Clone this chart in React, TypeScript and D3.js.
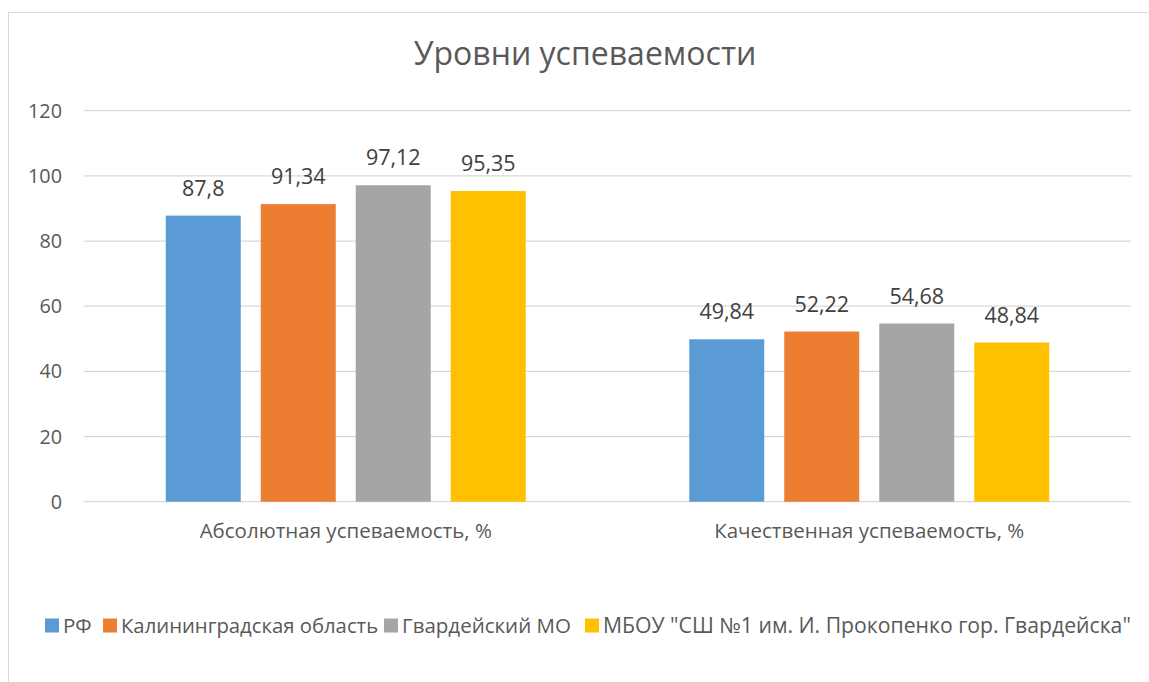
import React from "react";
import * as d3 from "d3";

const title = "Уровни успеваемости";
const categories = ["Абсолютная успеваемость, %", "Качественная успеваемость, %"];
const seriesNames = ["РФ", "Калининградская область", "Гвардейский МО", "МБОУ \"СШ №1 им. И. Прокопенко гор. Гвардейска\""];
const seriesColors = ["#5B9BD5", "#ED7D31", "#A5A5A5", "#FFC000"];
const rfValues = [87.8, 49.84];
const kaliningradValues = [91.34, 52.22];
const gvardeyskMOValues = [97.12, 54.68];
const schoolValues = [95.35, 48.84];
const yTicks = [0, 20, 40, 60, 80, 100, 120];

const seriesValues = [rfValues, kaliningradValues, gvardeyskMOValues, schoolValues];

const W = 1149;
const H = 682;
const plotLeft = 84;
const plotRight = 1131;
const plotTop = 110.7;
const plotBottom = 501.7;
const FONT = "'Open Sans', 'Noto Sans', sans-serif";
const TEXT = "#595959";

const fmt = (v: number) => String(v).replace(".", ",");

export default function App() {
  const x0 = d3.scaleBand<string>().domain(categories).range([plotLeft, plotRight]).paddingInner(0).paddingOuter(0);
  const bw = x0.bandwidth();
  const groupW = 360;
  const x1 = d3
    .scaleBand<string>()
    .domain(seriesNames)
    .range([(bw - groupW) / 2, (bw + groupW) / 2])
    .paddingInner(20 / 95)
    .paddingOuter(0);
  const y = d3.scaleLinear().domain([0, 120]).range([plotBottom, plotTop]);

  const legendItems = [
    { sq: 45, tx: 63 },
    { sq: 103, tx: 121 },
    { sq: 384, tx: 402 },
    { sq: 585, tx: 603 },
  ];
  const legendY = 625.5;
  const legendSizes = [20.5, 20.3, 20.5, 21.2];

  return (
    <svg width={W} height={H} style={{ position: "absolute", left: 0, top: 0 }} fontFamily={FONT}>
      <rect x={0} y={0} width={W} height={H} fill="#fff" />
      <rect x={8.5} y={12.5} width={1200} height={700} fill="#fff" stroke="#D9D9D9" strokeWidth={1} />
      <text x={585} y={65} textAnchor="middle" fontSize={32} fill={TEXT}>
        {title}
      </text>
      {yTicks.map((t) => (
        <g key={t}>
          <line x1={plotLeft} x2={plotRight} y1={y(t)} y2={y(t)} stroke="#D9D9D9" strokeWidth={1.3} />
          <text x={62} y={y(t)} dy="0.36em" textAnchor="end" fontSize={19.8} fill={TEXT}>
            {t}
          </text>
        </g>
      ))}
      {categories.map((c, ci) => (
        <g key={c} transform={`translate(${x0(c)},0)`}>
          {seriesNames.map((s, si) => {
            const v = seriesValues[si][ci];
            const bx = x1(s)!;
            return (
              <g key={s}>
                <rect x={bx} y={y(v)} width={x1.bandwidth()} height={plotBottom - y(v)} fill={seriesColors[si]} />
                <text x={bx + x1.bandwidth() / 2} y={y(v) - 20} textAnchor="middle" fontSize={21.5} fill="#404040">
                  {fmt(v)}
                </text>
              </g>
            );
          })}
          <text x={bw / 2} y={538} textAnchor="middle" fontSize={20.5} fill={TEXT}>
            {c}
          </text>
        </g>
      ))}
      {seriesNames.map((s, si) => (
        <g key={s}>
          <rect x={legendItems[si].sq} y={legendY - 7} width={14} height={14} fill={seriesColors[si]} />
          <text x={legendItems[si].tx} y={legendY} dy="0.36em" fontSize={legendSizes[si]} fill={TEXT}>
            {s}
          </text>
        </g>
      ))}
    </svg>
  );
}
